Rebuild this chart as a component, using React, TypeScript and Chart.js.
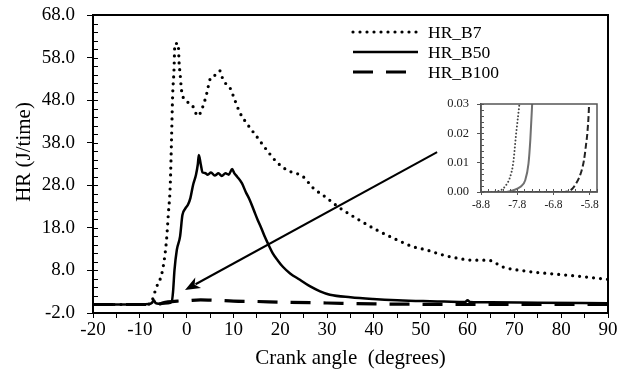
import React, { useEffect, useRef } from "react";
import { Chart, registerables } from "chart.js";
Chart.register(...registerables);

// ---------- data (main chart) ----------
const b7Angle = [-20, -10, -8, -7.5, -7.0, -6.4, -5.7, -5.0, -4.3, -3.9, -3.5, -3.2, -3.0, -2.7, -2.5, -1.8, -1.6, -1.4, -1.1, -0.35, 0.7, 1.3, 2.4, 3.4, 4.3, 5.0, 6.1, 7.1, 7.8, 9.3, 10.3, 11.4, 12.8, 15.0, 17.1, 19.2, 21.4, 24.9, 27.0, 29.6, 32.3, 36.3, 40.6, 44.9, 48.3, 51.3, 54.8, 57.7, 61.2, 64.4, 67.6, 72.7, 79.1, 84.0, 90.0];
const b7HR = [0, 0, 0.1, 0.5, 2.2, 4.2, 5.8, 8.9, 15.1, 21.4, 28.0, 40.0, 48.8, 55.1, 61.3, 61.3, 56.6, 54.3, 50.4, 48.0, 47.3, 46.6, 44.3, 46.3, 49.6, 52.9, 53.9, 54.9, 52.7, 50.8, 48.0, 45.0, 42.6, 39.4, 36.3, 33.5, 31.6, 30.0, 27.4, 25.3, 23.0, 20.2, 17.5, 15.2, 13.6, 12.8, 11.6, 10.9, 10.4, 10.4, 8.8, 7.8, 7.1, 6.6, 5.9];

const b50Angle = [-20, -10, -8, -7.4, -7.0, -6.6, -6.0, -4.0, -3.2, -2.9, -2.6, -2.1, -1.4, -0.9, -0.3, 0.3, 0.8, 1.4, 2.0, 2.4, 2.6, 3.0, 3.4, 3.9, 4.5, 5.2, 6.0, 6.8, 7.5, 8.3, 9.0, 9.7, 10.2, 10.8, 11.8, 12.6, 13.5, 14.4, 15.2, 16.0, 16.7, 17.5, 18.4, 19.5, 20.6, 22.1, 24.2, 26.3, 28.5, 30.6, 35.0, 39.8, 45.0, 50.5, 55.0, 59.5, 60.0, 60.5, 65.0, 75.0, 90.0];
const b50HR = [0, 0, 0.1, 0.4, 1.0, 0.3, 0.2, 0.3, 0.6, 3.0, 8.0, 12.8, 16.0, 21.0, 22.5, 23.5, 25.0, 28.2, 30.5, 33.0, 35.1, 33.0, 31.0, 30.9, 30.5, 31.0, 30.3, 30.8, 30.2, 30.8, 30.5, 31.8, 30.8, 30.0, 28.5, 26.5, 24.5, 22.0, 19.8, 17.8, 15.9, 14.0, 12.0, 10.3, 8.8, 7.3, 5.8, 4.3, 3.1, 2.3, 1.7, 1.3, 1.0, 0.8, 0.7, 0.6, 1.0, 0.6, 0.5, 0.4, 0.3];

const b100Angle = [-20, -6.2, -5.8, -5.0, -4.0, -2.0, 0, 3, 6, 10, 15, 20, 30, 40, 50, 60, 70, 90];
const b100HR = [0, 0, 0.1, 0.4, 0.6, 0.8, 0.9, 1.1, 1.0, 0.8, 0.7, 0.55, 0.35, 0.15, 0.05, 0.0, 0.0, 0.0];

const seriesNames = ["HR_B7", "HR_B50", "HR_B100"];
const xTitle = "Crank angle  (degrees)";
const yTitle = "HR (J/time)";

// axis ranges / ticks
const xMin = -20, xMax = 90, xStep = 5, xLabelStep = 10;
const yMin = -2, yMax = 68, yStep = 10, yMinorStep = 2;

// arrow (data coordinates): from -> to
const arrowFrom = [53.5, 35.8];
const arrowTo = [-0.35, 3.4];

// ---------- data (inset) ----------
const b7InsetAngle = [-8.8, -8.5, -8.33, -8.2, -8.13, -8.0, -7.91, -7.83, -7.74, -7.7];
const b7InsetHR = [0, 0, 0.0003, 0.001, 0.002, 0.005, 0.01, 0.02, 0.03, 0.035];
const b50InsetAngle = [-8.8, -8.1, -7.91, -7.72, -7.58, -7.49, -7.44, -7.39, -7.37];
const b50InsetHR = [0, 0, 0.0006, 0.0017, 0.004, 0.0097, 0.0177, 0.0297, 0.035];
const b100InsetAngle = [-8.8, -6.5, -6.33, -6.24, -6.05, -5.96, -5.91, -5.86, -5.82, -5.81];
const b100InsetHR = [0, 0, 0.0006, 0.0017, 0.0063, 0.0108, 0.0154, 0.021, 0.0297, 0.035];
const insetXLabels = [-8.8, -7.8, -6.8, -5.8];
const insetXMin = -8.8, insetXMax = -5.6, insetXMinor = 0.2;
const insetYMin = 0, insetYMax = 0.03, insetYStep = 0.01, insetYMinor = 0.002;

const zip = (xs: number[], ys: number[]) => xs.map((x, i) => ({ x, y: ys[i] }));

const SERIF = "'Liberation Serif', 'Times New Roman', serif";

const mainDecor = {
  id: "mainDecor",
  afterDatasetsDraw(chart: any) {
    const { ctx, chartArea: a, scales } = chart;
    const x = scales.x, y = scales.y;
    ctx.save();
    // frame
    ctx.strokeStyle = "#000";
    ctx.lineWidth = 2;
    ctx.strokeRect(a.left, a.top, a.right - a.left, a.bottom - a.top);
    // inward minor ticks on y
    ctx.lineWidth = 1;
    for (let v = yMin; v <= yMax + 1e-9; v += yMinorStep) {
      const py = Math.round(y.getPixelForValue(v)) + 0.5;
      ctx.beginPath();
      ctx.moveTo(a.left, py);
      ctx.lineTo(a.left + 5, py);
      ctx.stroke();
    }
    // arrow
    const sx = x.getPixelForValue(arrowFrom[0]);
    const sy = y.getPixelForValue(arrowFrom[1]);
    const ex = x.getPixelForValue(arrowTo[0]);
    const ey = y.getPixelForValue(arrowTo[1]);
    const ang = Math.atan2(ey - sy, ex - sx);
    const headLen = 15, headW = 6;
    ctx.lineWidth = 2;
    ctx.beginPath();
    ctx.moveTo(sx, sy);
    ctx.lineTo(ex - Math.cos(ang) * (headLen - 3), ey - Math.sin(ang) * (headLen - 3));
    ctx.stroke();
    ctx.fillStyle = "#000";
    ctx.beginPath();
    ctx.moveTo(ex, ey);
    ctx.lineTo(ex - Math.cos(ang) * headLen + Math.sin(ang) * headW, ey - Math.sin(ang) * headLen - Math.cos(ang) * headW);
    ctx.lineTo(ex - Math.cos(ang) * (headLen - 4), ey - Math.sin(ang) * (headLen - 4));
    ctx.lineTo(ex - Math.cos(ang) * headLen - Math.sin(ang) * headW, ey - Math.sin(ang) * headLen + Math.cos(ang) * headW);
    ctx.closePath();
    ctx.fill();
    // y-axis title
    ctx.save();
    ctx.translate(24, (a.top + a.bottom) / 2 - 12);
    ctx.rotate(-Math.PI / 2);
    ctx.fillStyle = "#000";
    ctx.font = `21px ${SERIF}`;
    ctx.textAlign = "center";
    ctx.textBaseline = "middle";
    ctx.fillText(yTitle, 0, 0);
    ctx.restore();
    // legend
    const lx0 = a.right - 255, lx1 = a.right - 190, tx = a.right - 180;
    chart.data.datasets.forEach((ds: any, i: number) => {
      const ly = a.top + 17 + i * 20;
      ctx.save();
      ctx.strokeStyle = ds.borderColor;
      ctx.lineWidth = ds.borderWidth;
      ctx.lineCap = ds.borderCapStyle || "butt";
      ctx.setLineDash(ds.borderDash || []);
      ctx.beginPath();
      ctx.moveTo(lx0, ly);
      ctx.lineTo(lx1, ly);
      ctx.stroke();
      ctx.restore();
      ctx.fillStyle = "#000";
      ctx.font = `17.5px ${SERIF}`;
      ctx.textBaseline = "middle";
      ctx.textAlign = "left";
      ctx.fillText(ds.label, tx, ly + 1);
    });
    ctx.restore();
  },
};

const insetDecor = {
  id: "insetDecor",
  afterDatasetsDraw(chart: any) {
    const { ctx, chartArea: a, scales } = chart;
    const x = scales.x, y = scales.y;
    ctx.save();
    ctx.strokeStyle = "#555";
    ctx.lineWidth = 1.5;
    ctx.strokeRect(a.left, a.top, a.right - a.left, a.bottom - a.top);
    ctx.lineWidth = 1;
    for (let v = insetYMin; v <= insetYMax + 1e-9; v += insetYMinor) {
      const py = Math.round(y.getPixelForValue(v)) + 0.5;
      ctx.beginPath();
      ctx.moveTo(a.left, py);
      ctx.lineTo(a.left + 3, py);
      ctx.stroke();
    }
    for (let v = insetXMin; v <= insetXMax + 1e-9; v += insetXMinor) {
      const px = Math.round(x.getPixelForValue(v)) + 0.5;
      ctx.beginPath();
      ctx.moveTo(px, a.bottom);
      ctx.lineTo(px, a.bottom - 3);
      ctx.stroke();
    }
    ctx.restore();
  },
};

export default function App() {
  const mainRef = useRef<HTMLCanvasElement>(null);
  const insetRef = useRef<HTMLCanvasElement>(null);

  useEffect(() => {
    const main = new Chart(mainRef.current as HTMLCanvasElement, {
      type: "line",
      data: {
        datasets: [
          {
            label: seriesNames[0],
            data: zip(b7Angle, b7HR),
            borderColor: "#000",
            borderWidth: 3.2,
            borderDash: [0, 7],
            borderCapStyle: "round",
            pointRadius: 0,
            cubicInterpolationMode: "monotone",
          },
          {
            label: seriesNames[1],
            data: zip(b50Angle, b50HR),
            borderColor: "#000",
            borderWidth: 2.5,
            pointRadius: 0,
            cubicInterpolationMode: "monotone",
          },
          {
            label: seriesNames[2],
            data: zip(b100Angle, b100HR),
            borderColor: "#000",
            borderWidth: 3.2,
            borderDash: [20, 13],
            pointRadius: 0,
            cubicInterpolationMode: "monotone",
          },
        ] as any,
      },
      options: {
        animation: false,
        responsive: false,
        devicePixelRatio: 1,
        layout: { padding: { top: 15, right: 9, left: 0, bottom: 0 } },
        plugins: { legend: { display: false }, tooltip: { enabled: false } },
        scales: {
          x: {
            type: "linear",
            min: xMin,
            max: xMax,
            afterFit: (s: any) => {
              s.height = 65;
              s.paddingLeft = 0;
              s.paddingRight = 0;
            },
            ticks: {
              stepSize: xStep,
              autoSkip: false,
              maxRotation: 0,
              padding: 1,
              color: "#000",
              font: { family: SERIF, size: 19 },
              callback: (v: any) => (Math.abs(v % xLabelStep) < 1e-9 ? String(v) : ""),
            },
            grid: { drawOnChartArea: false, drawTicks: true, tickLength: 5, color: "#000", lineWidth: 1 },
            border: { display: true, color: "#000", width: 2 },
            title: {
              display: true,
              text: xTitle,
              color: "#000",
              font: { family: SERIF, size: 21 },
              padding: { top: 0, bottom: 7 },
            },
          },
          y: {
            type: "linear",
            min: yMin,
            max: yMax,
            afterFit: (s: any) => {
              s.width = 93;
              s.paddingTop = 0;
              s.paddingBottom = 0;
            },
            ticks: {
              stepSize: yStep,
              padding: 12,
              color: "#000",
              font: { family: SERIF, size: 19 },
              callback: (v: any) => Number(v).toFixed(1),
            },
            grid: { drawOnChartArea: false, drawTicks: true, tickLength: 6, color: "#000", lineWidth: 1 },
            border: { display: true, color: "#000", width: 2 },
            title: { display: false },
          },
        },
      } as any,
      plugins: [mainDecor],
    });

    const inset = new Chart(insetRef.current as HTMLCanvasElement, {
      type: "line",
      data: {
        datasets: [
          {
            label: seriesNames[0],
            data: zip(b7InsetAngle, b7InsetHR),
            borderColor: "#444",
            borderWidth: 2,
            borderDash: [0, 3.5],
            borderCapStyle: "round",
            pointRadius: 0,
            cubicInterpolationMode: "monotone",
          },
          {
            label: seriesNames[1],
            data: zip(b50InsetAngle, b50InsetHR),
            borderColor: "#707070",
            borderWidth: 2,
            pointRadius: 0,
            cubicInterpolationMode: "monotone",
          },
          {
            label: seriesNames[2],
            data: zip(b100InsetAngle, b100InsetHR),
            borderColor: "#222",
            borderWidth: 2,
            borderDash: [6, 3],
            pointRadius: 0,
            cubicInterpolationMode: "monotone",
          },
        ] as any,
      },
      options: {
        animation: false,
        responsive: false,
        devicePixelRatio: 1,
        layout: { padding: { top: 9, right: 8, left: 0, bottom: 0 } },
        plugins: { legend: { display: false }, tooltip: { enabled: false } },
        scales: {
          x: {
            type: "linear",
            min: insetXMin,
            max: insetXMax,
            afterBuildTicks: (s: any) => {
              s.ticks = insetXLabels.map((v) => ({ value: v }));
            },
            afterFit: (s: any) => {
              s.height = 28;
              s.paddingLeft = 0;
              s.paddingRight = 0;
            },
            ticks: {
              autoSkip: false,
              maxRotation: 0,
              padding: 3,
              color: "#222",
              font: { family: SERIF, size: 11.5 },
              callback: (v: any) => Number(v).toFixed(1),
            },
            grid: { drawOnChartArea: false, drawTicks: true, tickLength: 3, color: "#555", lineWidth: 1 },
            border: { display: true, color: "#555", width: 1.5 },
          },
          y: {
            type: "linear",
            min: insetYMin,
            max: insetYMax,
            afterFit: (s: any) => {
              s.width = 41;
              s.paddingTop = 0;
              s.paddingBottom = 0;
            },
            ticks: {
              stepSize: insetYStep,
              padding: 8,
              color: "#222",
              font: { family: SERIF, size: 12.5 },
              callback: (v: any) => Number(v).toFixed(2),
            },
            grid: { drawOnChartArea: false, drawTicks: true, tickLength: 4, color: "#555", lineWidth: 1 },
            border: { display: true, color: "#555", width: 1.5 },
          },
        },
      } as any,
      plugins: [insetDecor],
    });

    return () => {
      main.destroy();
      inset.destroy();
    };
  }, []);

  return (
    <div style={{ position: "absolute", left: 0, top: 0, width: 617, height: 378, background: "#fff" }}>
      <canvas ref={mainRef} width={617} height={378} style={{ position: "absolute", left: 0, top: 0 }} />
      <canvas ref={insetRef} width={165} height={125} style={{ position: "absolute", left: 440, top: 95 }} />
    </div>
  );
}
